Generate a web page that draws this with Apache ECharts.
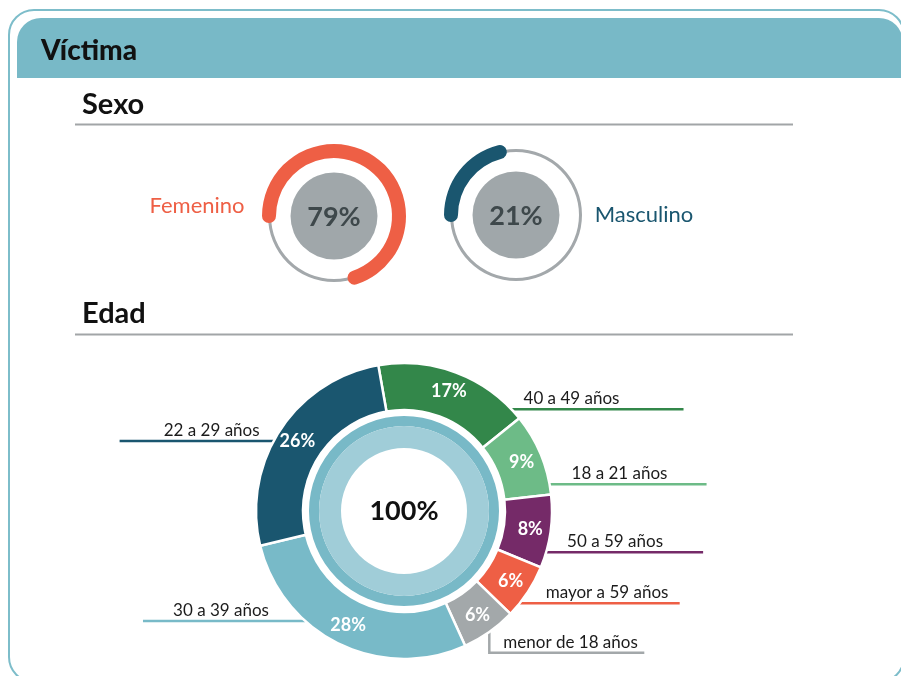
<!DOCTYPE html>
<html>
<head>
<meta charset="utf-8">
<title>Víctima</title>
<script src="https://cdn.jsdelivr.net/npm/echarts@6.0.0/dist/echarts.min.js"></script>
<style>
  html, body { margin: 0; padding: 0; background: #fff; }
  #main { width: 901px; height: 676px; }
</style>
</head>
<body>
<div id="main"></div>
<script>
// datos
var sexoNames = ['Femenino', 'Masculino'];
var sexoValues = [79, 21];

var edadNames = ['40 a 49 años', '18 a 21 años', '50 a 59 años', 'mayor a 59 años',
                 'menor de 18 años', '30 a 39 años', '22 a 29 años'];
var edadValues = [17, 9, 8, 6, 6, 28, 26];
var totalValue = 100;

// estilos
var sexoColors = ['#ee5f45', '#1a566f'];
var edadColors = ['#33874a', '#6dbb87', '#752a68', '#ee5f45', '#a3a8aa', '#78bac8', '#1a566f'];
var FONT = 'Lato, "Open Sans", sans-serif';

// donut geometry
var CX = 404, CY = 511, R_IN = 101, R_OUT = 148;

// where each leader line sits (offset from center), its length and text gap
var labelTune = [
  { dy: -101.7, len: 172, gap: 12 },
  { dy: -26.7, len: 157, gap: 22 },
  { dy: 41.3, len: 157, gap: 21 },
  { dy: 92.3, len: 160, gap: 26 },
  { dy: 141.7, len: 155, gap: 14, drop: true },
  { dy: 110, len: 162, gap: 36 },
  { dy: -70, len: 154, gap: 14 }
];

var chart = echarts.init(document.getElementById('main'));

// aro gris fino + disco central
function gaugeTrack(center) {
  return {
    type: 'gauge',
    center: center,
    radius: 66,
    startAngle: 180,
    endAngle: -180,
    silent: true,
    z: 2,
    pointer: { show: false },
    progress: { show: false },
    axisLine: { show: true, lineStyle: { width: 3, color: [[1, '#a3a8ab']] } },
    axisTick: { show: false },
    splitLine: { show: false },
    axisLabel: { show: false },
    anchor: { show: true, showAbove: true, size: 87, icon: 'circle', itemStyle: { color: '#a0a7aa' } },
    title: { show: false },
    detail: { show: false },
    data: []
  };
}

function gaugeSexo(i, center, endAngle, titleOffset) {
  return {
    type: 'gauge',
    center: center,
    radius: 72,
    startAngle: 180,
    endAngle: endAngle,
    min: 0,
    max: 100,
    silent: true,
    z: 4,
    pointer: { show: false },
    progress: { show: true, width: 14, roundCap: true, itemStyle: { color: sexoColors[i] } },
    axisLine: { show: false },
    axisTick: { show: false },
    splitLine: { show: false },
    axisLabel: { show: false },
    anchor: { show: false },
    title: {
      show: true,
      offsetCenter: titleOffset,
      color: sexoColors[i],
      fontSize: 22,
      fontFamily: FONT
    },
    detail: {
      show: true,
      offsetCenter: [0, 1],
      formatter: '{value}%',
      color: '#3e484b',
      fontSize: 27,
      fontWeight: 'bold',
      fontFamily: FONT
    },
    data: [{ value: sexoValues[i], name: sexoNames[i] }]
  };
}

var outerData = edadNames.map(function (n, i) {
  return {
    name: n,
    value: edadValues[i],
    labelLine: { lineStyle: { color: edadColors[i] } }
  };
});

var mainData = edadNames.map(function (n, i) {
  return { name: n, value: edadValues[i], itemStyle: { color: edadColors[i] } };
});

chart.setOption({
  animation: false,
  graphic: [
    {
      type: 'rect',
      shape: { x: 9, y: 10, width: 895, height: 672, r: 25 },
      style: { fill: 'none', stroke: '#7dbdca', lineWidth: 2 }
    },
    {
      type: 'rect',
      shape: { x: 17, y: 18, width: 886, height: 60, r: [24, 24, 0, 0] },
      style: { fill: '#78b9c7' }
    },
    {
      type: 'text',
      style: { text: 'Víctima', x: 41, y: 51, verticalAlign: 'middle', font: '900 28px ' + FONT, fill: '#111' }
    },
    {
      type: 'text',
      style: { text: 'Sexo', x: 82, y: 105, verticalAlign: 'middle', font: 'bold 29px ' + FONT, fill: '#111' }
    },
    {
      type: 'line',
      shape: { x1: 75, y1: 124.5, x2: 793, y2: 124.5 },
      style: { stroke: '#a2a5a7', lineWidth: 2 }
    },
    {
      type: 'text',
      style: { text: 'Edad', x: 82, y: 314, verticalAlign: 'middle', font: 'bold 29px ' + FONT, fill: '#111' }
    },
    {
      type: 'line',
      shape: { x1: 75, y1: 334.5, x2: 793, y2: 334.5 },
      style: { stroke: '#a2a5a7', lineWidth: 2 }
    }
  ],
  series: [
    gaugeTrack([334, 216]),
    gaugeTrack([516, 215]),
    gaugeSexo(0, [334, 216], -138.5, [-137, -10]),
    gaugeSexo(1, [516, 215], -180, [128, 0]),
    {
      // anillo total
      type: 'pie',
      center: [CX, CY],
      radius: [85, 95],
      silent: true,
      itemStyle: { color: '#78b9c7' },
      label: {
        show: true,
        position: 'center',
        formatter: '{c}%',
        color: '#111',
        fontSize: 27,
        fontWeight: 'bold',
        fontFamily: FONT
      },
      labelLine: { show: false },
      data: [{ name: 'Total', value: totalValue }]
    },
    {
      type: 'pie',
      center: [CX, CY],
      radius: [63, 85],
      silent: true,
      itemStyle: { color: '#a0cdd8' },
      label: { show: false },
      labelLine: { show: false },
      data: [{ name: 'Total', value: totalValue }]
    },
    {
      // edades
      type: 'pie',
      center: [CX, CY],
      radius: [R_IN, R_OUT],
      startAngle: 100,
      clockwise: true,
      silent: true,
      itemStyle: { borderColor: '#fff', borderWidth: 2.5 },
      label: {
        show: true,
        position: 'inside',
        formatter: '{c}%',
        color: '#fff',
        fontSize: 18,
        fontWeight: 'bold',
        fontFamily: FONT
      },
      labelLine: { show: false },
      data: mainData
    },
    {
      // rótulos exteriores
      type: 'pie',
      center: [CX, CY],
      radius: [R_IN, R_OUT],
      startAngle: 100,
      clockwise: true,
      silent: true,
      avoidLabelOverlap: false,
      itemStyle: { color: 'rgba(0,0,0,0)', borderWidth: 0 },
      label: {
        show: true,
        position: 'outside',
        formatter: '{b}',
        color: '#1b1b1b',
        fontSize: 17,
        fontFamily: FONT
      },
      labelLine: { show: true, length: 10, length2: 20, lineStyle: { width: 2.5 } },
      labelLayout: function (p) {
        var t = labelTune[p.dataIndex];
        var p0 = p.labelLinePoints[0];
        var side = p0[0] > CX ? 1 : -1;
        var y = CY + t.dy;
        var pts, x0;
        if (t.drop) {
          x0 = p0[0];
          pts = [[p0[0], p0[1]], [x0, y], [x0 + side * t.len, y]];
        } else {
          x0 = CX + side * Math.sqrt(R_OUT * R_OUT - t.dy * t.dy);
          pts = [[x0, y], [x0, y], [x0 + side * t.len, y]];
        }
        return {
          x: x0 + side * t.gap,
          y: y - 2,
          align: side > 0 ? 'left' : 'right',
          verticalAlign: 'bottom',
          labelLinePoints: pts
        };
      },
      data: outerData
    }
  ]
});
</script>
</body>
</html>
